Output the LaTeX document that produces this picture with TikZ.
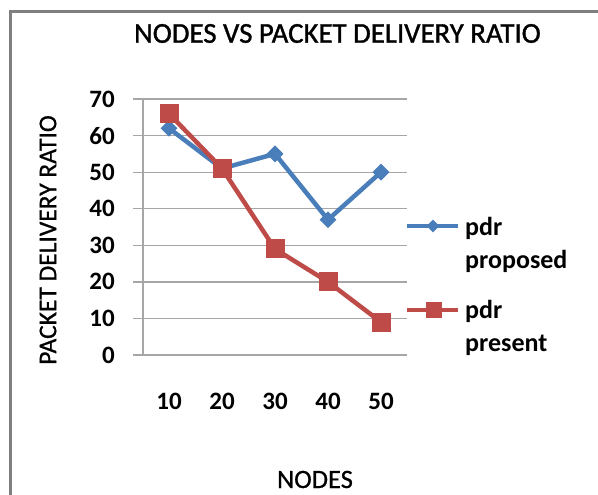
\documentclass[tikz,border=0pt]{standalone}
\usepackage{fontspec}
\setmainfont{Carlito}
% slightly heavier regular face for the titles
\newfontfamily\titlefont{Carlito}[FakeBold=1.2]
\newfontfamily\axisfont{Carlito}[FakeBold=0.7]
\usetikzlibrary{shapes.geometric}
\definecolor{seriesblue}{HTML}{4A7EBB}
\definecolor{seriesred}{HTML}{BE4B48}
\definecolor{gridgray}{HTML}{A6A6A6}
\definecolor{framegray}{HTML}{7F7F7F}
\tikzset{
  gridline/.style={draw=gridgray, line width=1.3pt},
  serieslineblue/.style={draw=seriesblue, line width=4.5pt, line join=round},
  serieslinered/.style={draw=seriesred, line width=4.5pt, line join=round},
  bluemark/.style={diamond, fill=seriesblue, minimum width=17pt, minimum height=17pt, inner sep=0pt},
  redmark/.style={rectangle, fill=seriesred, minimum size=19pt, inner sep=0pt},
  ticklabel/.style={inner sep=0pt, font=\fontsize{25}{30}\selectfont\bfseries},
  legendtext/.style={inner sep=0pt, anchor=base west, font=\fontsize{26}{31}\selectfont\bfseries},
}
\begin{document}
\begin{tikzpicture}[x=1pt,y=-1pt]
\useasboundingbox (0,0) rectangle (598,495);
\fill[white] (0,0) rectangle (598,495);

% outer chart frame (only the top and left edges are in view)
\draw[framegray, line width=3pt] (10,497) -- (10,12) -- (598,12);

% title
\node[inner sep=0pt, font=\fontsize{28.8}{34}\selectfont\titlefont] (title) at (337.5,33.5)
  {NODES VS PACKET DELIVERY RATIO};

% horizontal gridlines and value labels (0..70, 3.657 px per unit)
\foreach \v in {0,10,...,70} {
  \draw[gridline] (133,{355-3.657*\v}) -- (407,{355-3.657*\v});
  \node[ticklabel, anchor=east] (y\v) at (115,{355-3.657*\v}) {\v};
}
% value axis
\draw[gridline] (143,99) -- (143,355);

% category labels
\foreach \c/\x in {10/169,20/222,30/275,40/328,50/381} {
  \node[ticklabel] (x\c) at (\x,401) {\c};
}

% axis titles
\node[inner sep=0pt, font=\fontsize{26.5}{31}\selectfont\axisfont] (xtitle) at (315,479.5) {NODES};
\node[inner sep=0pt, rotate=90, font=\fontsize{25.5}{30}\selectfont\axisfont] (ytitle) at (48,240) {PACKET DELIVERY RATIO};

% data points
\foreach \i/\x/\b/\r in {1/169/62/66, 2/222/51/51, 3/275/55/29, 4/328/37/20, 5/381/50/9} {
  \coordinate (b\i) at (\x,{355-3.657*\b});
  \coordinate (r\i) at (\x,{355-3.657*\r});
}

% series: pdr proposed
\draw[serieslineblue] (b1) -- (b2) -- (b3) -- (b4) -- (b5);
\foreach \i in {1,...,5} \node[bluemark] (bm\i) at (b\i) {};

% series: pdr present
\draw[serieslinered] (r1) -- (r2) -- (r3) -- (r4) -- (r5);
\foreach \i in {1,...,5} \node[redmark] (rm\i) at (r\i) {};

% legend
\coordinate (lgbL) at (407,226);
\coordinate (lgbR) at (458,226);
\draw[serieslineblue] (lgbL) -- (lgbR);
\node[bluemark, minimum width=13pt, minimum height=13pt] (lgbm) at (433,226) {};
\node[legendtext] (lgb1) at (465,235) {pdr};
\node[legendtext] (lgb2) at (465,268) {proposed};

\coordinate (lgrL) at (407,310);
\coordinate (lgrR) at (458,310);
\draw[serieslinered] (lgrL) -- (lgrR);
\node[redmark, minimum size=16pt] (lgrm) at (433.5,310) {};
\node[legendtext] (lgr1) at (465,318) {pdr};
\node[legendtext] (lgr2) at (465,351) {present};
\end{tikzpicture}
\end{document}
